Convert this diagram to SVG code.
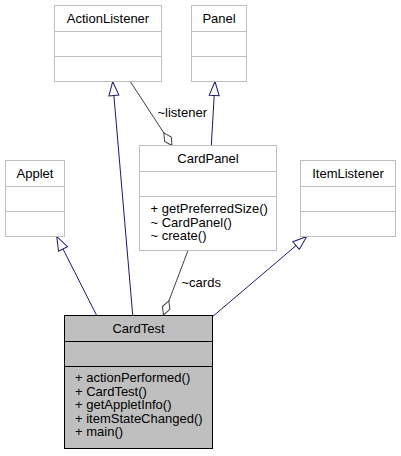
<svg xmlns="http://www.w3.org/2000/svg" width="401" height="456" viewBox="0 0 401 456">
<style>
text{font-family:"Liberation Sans",Arial,sans-serif;font-size:13px;fill:#000}
.t{text-anchor:middle}
.box{fill:#fff;stroke:#bfbfbf;stroke-width:1}
.div{stroke:#bfbfbf;stroke-width:1}
.cur{fill:#bfbfbf;stroke:#000;stroke-width:1}
.cdiv{stroke:#000;stroke-width:1}
.inh{fill:none;stroke:#191970;stroke-width:1;marker-end:url(#tri)}
.agg{fill:none;stroke:#404040;stroke-width:1;marker-end:url(#dia)}
</style>
<defs>
<marker id="tri" markerUnits="userSpaceOnUse" viewBox="-1 -6 16 12" markerWidth="16" markerHeight="12" refX="14" refY="0" orient="auto">
<path d="M0,-5 L14,0 L0,5 Z" fill="#fff" stroke="#191970" stroke-width="1"/>
</marker>
<marker id="dia" markerUnits="userSpaceOnUse" viewBox="-1 -5 17 10" markerWidth="17" markerHeight="10" refX="15" refY="0" orient="auto">
<path d="M0,0 L7.5,-4 L15,0 L7.5,4 Z" fill="#fff" stroke="#404040" stroke-width="1"/>
</marker>
</defs>
<rect width="401" height="456" fill="#fff"/>
<g id="edges">
<path class="inh" d="M132.7,315 L112.7,81.5"/>
<path class="inh" d="M211.3,145.5 L215,81.5"/>
<path class="agg" d="M130.3,81.5 L172,145.5"/>
<path class="inh" d="M96.7,315.5 L56.7,236.5"/>
<path class="inh" d="M212.7,316.5 L306.7,236.5"/>
<path class="agg" d="M188,250.5 L163.5,315"/>
<text x="157.5" y="117">~listener</text>
<text x="181.5" y="287">~cards</text>
</g>
<g id="ActionListener">
<rect class="box" x="54.5" y="5.5" width="107" height="76"/>
<line class="div" x1="54.5" y1="31.5" x2="161.5" y2="31.5"/>
<line class="div" x1="54.5" y1="56.5" x2="161.5" y2="56.5"/>
<text class="t" x="108" y="22.5">ActionListener</text>
</g>
<g id="Panel">
<rect class="box" x="191.5" y="5.5" width="55" height="76"/>
<line class="div" x1="191.5" y1="31.5" x2="246.5" y2="31.5"/>
<line class="div" x1="191.5" y1="56.5" x2="246.5" y2="56.5"/>
<text class="t" x="219" y="22.5">Panel</text>
</g>
<g id="CardPanel">
<rect class="box" x="139.5" y="145.5" width="137" height="105"/>
<line class="div" x1="139.5" y1="171.5" x2="276.5" y2="171.5"/>
<line class="div" x1="139.5" y1="196.5" x2="276.5" y2="196.5"/>
<text class="t" x="208" y="162.5">CardPanel</text>
<text x="150.5" y="213">+ getPreferredSize()</text>
<text x="150.5" y="226.5">~ CardPanel()</text>
<text x="150.5" y="240">~ create()</text>
</g>
<g id="Applet">
<rect class="box" x="5.5" y="160.5" width="59" height="76"/>
<line class="div" x1="5.5" y1="186.5" x2="64.5" y2="186.5"/>
<line class="div" x1="5.5" y1="211.5" x2="64.5" y2="211.5"/>
<text class="t" x="35" y="177.5">Applet</text>
</g>
<g id="ItemListener">
<rect class="box" x="300.5" y="160.5" width="95" height="76"/>
<line class="div" x1="300.5" y1="186.5" x2="395.5" y2="186.5"/>
<line class="div" x1="300.5" y1="211.5" x2="395.5" y2="211.5"/>
<text class="t" x="348" y="177.5">ItemListener</text>
</g>
<g id="CardTest">
<rect class="cur" x="64.5" y="315.5" width="148" height="133"/>
<line class="cdiv" x1="64.5" y1="341.5" x2="212.5" y2="341.5"/>
<line class="cdiv" x1="64.5" y1="366.5" x2="212.5" y2="366.5"/>
<text class="t" x="138.5" y="332.5">CardTest</text>
<text x="75" y="382">+ actionPerformed()</text>
<text x="75" y="395.5">+ CardTest()</text>
<text x="75" y="409">+ getAppletInfo()</text>
<text x="75" y="422.5">+ itemStateChanged()</text>
<text x="75" y="436">+ main()</text>
</g>
</svg>
